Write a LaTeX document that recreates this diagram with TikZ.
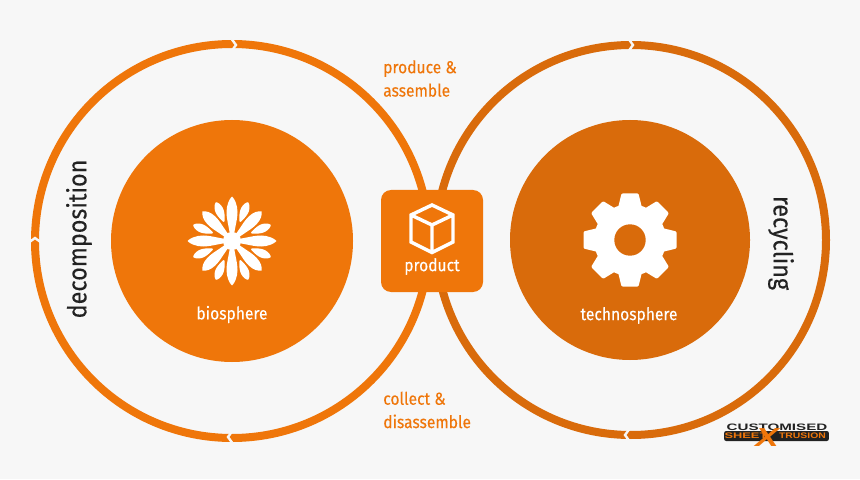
\documentclass[tikz,border=0pt]{standalone}
\usepackage{fontspec}
\setmainfont[FakeStretch=0.9,FakeBold=0.25]{Fira Sans}
\newfontfamily\logofont{Liberation Sans}
\definecolor{bgc}{HTML}{F7F7F7}
\definecolor{orgA}{HTML}{EF760A}
\definecolor{orgB}{HTML}{D96B0B}
\definecolor{inkc}{HTML}{222222}
\tikzset{
  ringA/.style={draw=orgA,line width=6pt},
  ringB/.style={draw=orgB,line width=6pt},
  chev/.style={draw=bgc,line width=1.8pt,miter limit=10},
  wlabel/.style={text=white,font=\fontsize{13}{15}\selectfont,inner sep=0pt},
  olabel/.style={text=orgA,font=\fontsize{13}{17.5}\selectfont,inner sep=0pt,align=left,anchor=west},
  sidelabel/.style={text=inkc,font=\fontsize{19.5}{22}\selectfont,inner sep=0pt},
  logotext/.style={inner sep=0pt}
}
\begin{document}
\begin{tikzpicture}[x=0.75pt,y=0.75pt]
\useasboundingbox (0,0) rectangle (860,479);
\fill[bgc] (0,0) rectangle (860,479);
% rings
\draw[ringA] (232,238) circle [radius=197];
\draw[ringB] (631,239) circle [radius=195];
\foreach \px/\py/\rot in {234/434/0,35/239/90,230/42/180}{
  \draw[chev,shift={(\px,\py)},rotate=\rot] (-2,5.5)--(2,0)--(-2,-5.5);
}
\foreach \px/\py/\rot in {631/434/0,627/44/180}{
  \draw[chev,shift={(\px,\py)},rotate=\rot] (-2,5.5)--(2,0)--(-2,-5.5);
}
% inner discs
\node[circle,fill=orgA,minimum size=181.5pt,inner sep=0pt] (bio) at (232,238) {};
\node[circle,fill=orgB,minimum size=180pt,inner sep=0pt] (tech) at (630,239) {};
\node[fill=orgA,rounded corners=7.5pt,minimum size=76.5pt,inner sep=0pt] (prod) at (432,238) {};
% flower
\begin{scope}[shift={(232,238)}]
\foreach \a/\L in {0/44.5,45/42,90/44.5,135/42,180/44.5,225/42,270/44.5,315/42}{
  \fill[white,rotate=\a] (0,-1.5) .. controls (12,-2) and (20,-5.5) .. (29,-5.5)
     .. controls (36,-5.5) and (\L-2,-2.5) .. (\L,0)
     .. controls (\L-2,2.5) and (36,5.5) .. (29,5.5)
     .. controls (20,5.5) and (12,2) .. (0,1.5) -- cycle;
}
\foreach \a in {22.5,67.5,...,337.5}{
  \fill[white,rotate=\a] (21,-0.8) .. controls (26,-3) and (30,-4.4) .. (34,-4.2)
     .. controls (38,-3.8) and (41,-2) .. (42,0)
     .. controls (41,2) and (38,3.8) .. (34,4.2)
     .. controls (30,4.4) and (26,3) .. (21,0.8) -- cycle;
}
\fill[white] (0,0) circle [radius=9];
\end{scope}
% gear
\begin{scope}[shift={(630,239)}]
\fill[white] (0,0) circle [radius=36];
\foreach \a in {0,45,...,315}{
  \fill[white,rotate=\a,rounded corners=0.8pt] (30,-12.5) -- (46.5,-8.5) -- (46.5,8.5) -- (30,12.5) -- cycle;
}
\fill[orgB] (0,0) circle [radius=15.7];
\end{scope}
% cube
\draw[white,line width=2.6pt,line join=miter]
  (432,274) -- (453,264) -- (453,237) -- (432,226.5) -- (411,237) -- (411,264) -- cycle
  (411,264) -- (432,254) -- (453,264)
  (432,254) -- (432,226.5);
% labels
\node[wlabel] (biot) at (232,164.5) {biosphere};
\node[wlabel] (techt) at (629,163.5) {technosphere};
\node[wlabel] (prodt) at (432,212.5) {product};
\node[olabel] (pa) at (383,400.5) {produce \&\\assemble};
\node[olabel] (ca) at (383,69) {collect \&\\disassemble};
\node[sidelabel,rotate=90] (dec) at (79,240) {decomposition};
\node[sidelabel,rotate=-90] (rec) at (781,236) {recycling};
% logo
\node[logotext,text=inkc,xscale=1.62,font=\logofont\bfseries\fontsize{7}{7}\selectfont] (lg1) at (777,51.5) {CUSTOMISED};
\node[fill=inkc,rounded corners=1.5pt,minimum width=78.5pt,minimum height=7.5pt,inner sep=0pt] (lgb) at (776.5,43) {};
\node[logotext,text=orgA,xscale=1.6,font=\logofont\bfseries\fontsize{6}{6}\selectfont] (lg2) at (746,43) {SHEET};
\node[logotext,text=orgA,xscale=1.3,font=\logofont\bfseries\fontsize{6}{6}\selectfont] (lg3) at (802.5,43) {TRUSION};
\node[logotext,text=orgA,xscale=1.35,font=\logofont\bfseries\itshape\fontsize{19.5}{19.5}\selectfont] (lg4) at (767,41.5) {X};
\end{tikzpicture}
\end{document}
